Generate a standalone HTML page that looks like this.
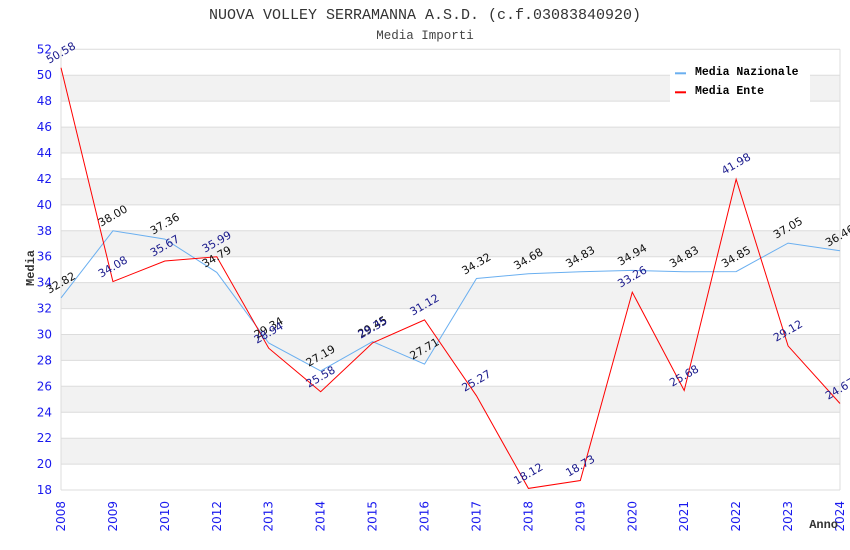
<!DOCTYPE html>
<html><head><meta charset="utf-8"><style>
html,body{margin:0;padding:0;background:#fff;}
svg{display:block;}
</style></head><body>
<svg width="850" height="550" viewBox="0 0 850 550" xmlns="http://www.w3.org/2000/svg">
<rect width="850" height="550" fill="#fff"/>
<text x="425" y="19" text-anchor="middle" font-family="Liberation Mono, DejaVu Sans Mono, monospace" font-size="15" fill="#333">NUOVA VOLLEY SERRAMANNA A.S.D. (c.f.03083840920)</text>
<text x="425" y="39" text-anchor="middle" font-family="Liberation Mono, DejaVu Sans Mono, monospace" font-size="12.5" fill="#444">Media Importi</text>
<!-- bands -->
<g fill="#f2f2f2">
<rect x="61" y="75.2" width="779" height="25.9"/>
<rect x="61" y="127.1" width="779" height="25.9"/>
<rect x="61" y="178.9" width="779" height="25.9"/>
<rect x="61" y="230.8" width="779" height="25.9"/>
<rect x="61" y="282.6" width="779" height="25.9"/>
<rect x="61" y="334.5" width="779" height="25.9"/>
<rect x="61" y="386.3" width="779" height="25.9"/>
<rect x="61" y="438.2" width="779" height="25.9"/>
</g>
<g stroke="#dcdcdc" stroke-width="1">
<line x1="61" x2="840" y1="49.3" y2="49.3"/>
<line x1="61" x2="840" y1="75.2" y2="75.2"/>
<line x1="61" x2="840" y1="101.1" y2="101.1"/>
<line x1="61" x2="840" y1="127.1" y2="127.1"/>
<line x1="61" x2="840" y1="153.0" y2="153.0"/>
<line x1="61" x2="840" y1="178.9" y2="178.9"/>
<line x1="61" x2="840" y1="204.9" y2="204.9"/>
<line x1="61" x2="840" y1="230.8" y2="230.8"/>
<line x1="61" x2="840" y1="256.7" y2="256.7"/>
<line x1="61" x2="840" y1="282.6" y2="282.6"/>
<line x1="61" x2="840" y1="308.6" y2="308.6"/>
<line x1="61" x2="840" y1="334.5" y2="334.5"/>
<line x1="61" x2="840" y1="360.4" y2="360.4"/>
<line x1="61" x2="840" y1="386.3" y2="386.3"/>
<line x1="61" x2="840" y1="412.3" y2="412.3"/>
<line x1="61" x2="840" y1="438.2" y2="438.2"/>
<line x1="61" x2="840" y1="464.1" y2="464.1"/>
<line x1="61" x2="840" y1="490" y2="490"/>
<line x1="61" x2="61" y1="49.3" y2="490"/>
<line x1="840" x2="840" y1="49.3" y2="490"/>
</g>
<!-- y labels -->
<g font-family="DejaVu Sans, Liberation Sans, sans-serif" font-size="12" fill="#1a1aee" text-anchor="end" dominant-baseline="central">
<text x="52" y="49.3">52</text>
<text x="52" y="75.2">50</text>
<text x="52" y="101.1">48</text>
<text x="52" y="127.1">46</text>
<text x="52" y="153.0">44</text>
<text x="52" y="178.9">42</text>
<text x="52" y="204.9">40</text>
<text x="52" y="230.8">38</text>
<text x="52" y="256.7">36</text>
<text x="52" y="282.6">34</text>
<text x="52" y="308.6">32</text>
<text x="52" y="334.5">30</text>
<text x="52" y="360.4">28</text>
<text x="52" y="386.3">26</text>
<text x="52" y="412.3">24</text>
<text x="52" y="438.2">22</text>
<text x="52" y="464.1">20</text>
<text x="52" y="490">18</text>
</g>
<!-- x labels -->
<g font-family="DejaVu Sans, Liberation Sans, sans-serif" font-size="12" fill="#1a1aee" text-anchor="end" dominant-baseline="central">
<text transform="translate(61,501) rotate(-90)">2008</text>
<text transform="translate(112.93,501) rotate(-90)">2009</text>
<text transform="translate(164.87,501) rotate(-90)">2010</text>
<text transform="translate(216.8,501) rotate(-90)">2012</text>
<text transform="translate(268.73,501) rotate(-90)">2013</text>
<text transform="translate(320.67,501) rotate(-90)">2014</text>
<text transform="translate(372.6,501) rotate(-90)">2015</text>
<text transform="translate(424.53,501) rotate(-90)">2016</text>
<text transform="translate(476.47,501) rotate(-90)">2017</text>
<text transform="translate(528.4,501) rotate(-90)">2018</text>
<text transform="translate(580.33,501) rotate(-90)">2019</text>
<text transform="translate(632.27,501) rotate(-90)">2020</text>
<text transform="translate(684.2,501) rotate(-90)">2021</text>
<text transform="translate(736.13,501) rotate(-90)">2022</text>
<text transform="translate(788.07,501) rotate(-90)">2023</text>
<text transform="translate(840,501) rotate(-90)">2024</text>
</g>
<text transform="translate(34,268) rotate(-90)" text-anchor="middle" font-family="Liberation Mono, DejaVu Sans Mono, monospace" font-weight="bold" font-size="12" fill="#333">Media</text>
<text x="838" y="528" text-anchor="end" font-family="Liberation Mono, DejaVu Sans Mono, monospace" font-weight="bold" font-size="12" fill="#333">Anno</text>
<!-- series -->
<polyline fill="none" stroke="#6aaff0" stroke-width="1" points="61,297.9 112.93,230.8 164.87,239.1 216.8,272.4 268.73,343.0 320.67,370.9 372.6,341.6 424.53,364.1 476.47,278.5 528.4,273.8 580.33,271.8 632.27,270.4 684.2,271.8 736.13,271.6 788.07,243.1 840,250.7"/>
<polyline fill="none" stroke="#ff0000" stroke-width="1" points="61,67.7 112.93,281.6 164.87,261.0 216.8,256.8 268.73,348.2 320.67,391.7 372.6,342.9 424.53,319.9 476.47,395.8 528.4,488.4 580.33,480.5 632.27,292.2 684.2,390.5 736.13,179.2 788.07,345.9 840,403.5"/>
<!-- value labels Nazionale -->
<g font-family="DejaVu Sans, Liberation Sans, sans-serif" font-size="11" fill="#111" text-anchor="middle" dominant-baseline="central">
<text transform="translate(61,283) rotate(-30)">32.82</text>
<text transform="translate(112.93,216) rotate(-30)">38.00</text>
<text transform="translate(164.87,224) rotate(-30)">37.36</text>
<text transform="translate(216.8,257) rotate(-30)">34.79</text>
<text transform="translate(268.73,328) rotate(-30)">29.34</text>
<text transform="translate(320.67,356) rotate(-30)">27.19</text>
<text transform="translate(372.6,327) rotate(-30)">29.45</text>
<text transform="translate(424.53,349) rotate(-30)">27.71</text>
<text transform="translate(476.47,264) rotate(-30)">34.32</text>
<text transform="translate(528.4,259) rotate(-30)">34.68</text>
<text transform="translate(580.33,257) rotate(-30)">34.83</text>
<text transform="translate(632.27,255) rotate(-30)">34.94</text>
<text transform="translate(684.2,257) rotate(-30)">34.83</text>
<text transform="translate(736.13,257) rotate(-30)">34.85</text>
<text transform="translate(788.07,228) rotate(-30)">37.05</text>
<text transform="translate(840,236) rotate(-30)">36.46</text>
</g>
<!-- value labels Ente -->
<g font-family="DejaVu Sans, Liberation Sans, sans-serif" font-size="11" fill="#1a1a8c" text-anchor="middle" dominant-baseline="central">
<text transform="translate(61,53) rotate(-30)">50.58</text>
<text transform="translate(112.93,267) rotate(-30)">34.08</text>
<text transform="translate(164.87,246) rotate(-30)">35.67</text>
<text transform="translate(216.8,242) rotate(-30)">35.99</text>
<text transform="translate(268.73,333) rotate(-30)">28.94</text>
<text transform="translate(320.67,377) rotate(-30)">25.58</text>
<text transform="translate(372.6,328) rotate(-30)">29.35</text>
<text transform="translate(424.53,305) rotate(-30)">31.12</text>
<text transform="translate(476.47,381) rotate(-30)">25.27</text>
<text transform="translate(528.4,474) rotate(-30)">18.12</text>
<text transform="translate(580.33,466) rotate(-30)">18.73</text>
<text transform="translate(632.27,277) rotate(-30)">33.26</text>
<text transform="translate(684.2,376) rotate(-30)">25.68</text>
<text transform="translate(736.13,164) rotate(-30)">41.98</text>
<text transform="translate(788.07,331) rotate(-30)">29.12</text>
<text transform="translate(840,389) rotate(-30)">24.67</text>
</g>
<!-- legend -->
<rect x="670" y="57" width="140" height="45" fill="#fff"/>
<line x1="675" x2="686" y1="73.3" y2="73.3" stroke="#6aaff0" stroke-width="2"/>
<line x1="675" x2="686" y1="92.3" y2="92.3" stroke="#ff0000" stroke-width="2"/>
<g font-family="Liberation Mono, DejaVu Sans Mono, monospace" font-weight="bold" font-size="11.5" fill="#000">
<text x="695" y="75">Media Nazionale</text>
<text x="695" y="94">Media Ente</text>
</g>
</svg>
</body></html>
